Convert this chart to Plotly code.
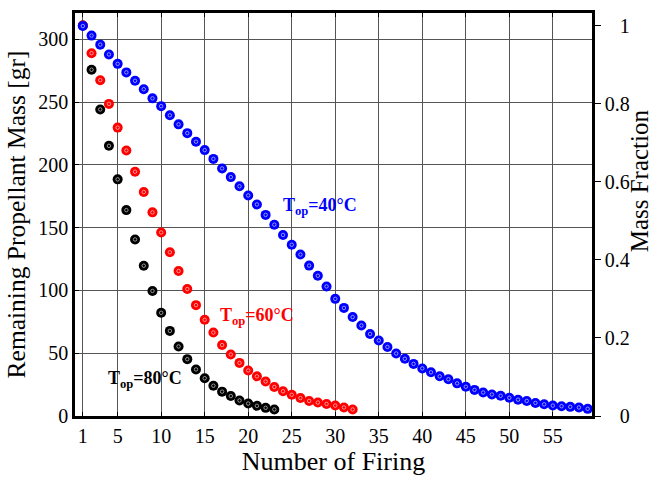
import plotly.graph_objects as go

# Firing number (x) and remaining propellant mass [gr] for each operating temperature
firing_40 = list(range(1, 60))
mass_40 = [310.6, 303.0, 295.8, 288.0, 280.5, 273.7, 267.0, 260.3, 253.0, 246.8,
           239.5, 232.3, 225.3, 218.5, 211.8, 204.8, 197.2, 190.3, 183.0, 175.7,
           168.5, 160.2, 152.4, 144.2, 136.4, 128.6, 119.8, 111.7, 103.2, 93.3,
           86.1, 78.8, 72.1, 65.3, 60.2, 55.0, 49.8, 45.6, 41.5, 37.9,
           34.8, 31.6, 29.3, 26.0, 23.3, 20.8, 18.7, 17.1, 16.1, 14.5,
           13.0, 12.0, 10.4, 9.3, 8.3, 7.8, 7.3, 6.8, 5.7]

firing_60 = list(range(1, 33))
mass_60 = [311.0, 289.0, 267.5, 248.6, 229.7, 211.5, 194.6, 178.4, 162.2, 146.2,
           130.4, 115.5, 101.1, 88.3, 76.6, 66.5, 56.5, 49.0, 42.3, 36.3,
           31.6, 27.5, 23.1, 19.7, 16.9, 14.3, 12.0, 10.7, 9.6, 8.3,
           6.8, 5.2]

firing_80 = list(range(1, 24))
mass_80 = [311.0, 275.8, 244.2, 215.2, 188.5, 164.0, 140.6, 119.7, 99.6, 82.2,
           67.8, 55.4, 45.3, 37.1, 30.1, 24.1, 19.4, 15.9, 12.4, 9.9,
           8.1, 6.5, 5.2]

# Mass-fraction axis marker (full charge = 1) sitting on the right axis
fraction_x = [60.0]
fraction_y = [1.0]

x_ticks = [1, 5, 10, 15, 20, 25, 30, 35, 40, 45, 50, 55]
y_ticks = [0, 50, 100, 150, 200, 250, 300]
frac_ticks = [0, 0.2, 0.4, 0.6, 0.8, 1.0]
frac_labels = ["\u2007\u20080", "0.2", "0.4", "0.6", "0.8", "\u2007\u20081"]

FONT = "Liberation Serif, Times New Roman, serif"

series = [
    (firing_80, mass_80, "#000000"),
    (firing_60, mass_60, "#ff0000"),
    (firing_40, mass_40, "#0000ff"),
]

fig = go.Figure()
for shots, mass, color in series:
    fig.add_trace(go.Scatter(
        x=shots, y=mass, mode="markers", showlegend=False,
        marker=dict(symbol="circle", size=10, color=color, line=dict(width=0)),
        cliponaxis=False,
    ))
    # faint light ring drawn inside each filled marker
    fig.add_trace(go.Scatter(
        x=shots, y=mass, mode="markers", showlegend=False, hoverinfo="skip",
        marker=dict(symbol="circle-open", size=3.5, color="rgba(255,255,255,0.55)",
                    line=dict(width=1)),
        cliponaxis=False,
    ))

fig.add_trace(go.Scatter(
    x=fraction_x, y=fraction_y, yaxis="y2", mode="markers", showlegend=False,
    marker=dict(symbol="triangle-left", size=7, color="#0000ff"),
    cliponaxis=False,
))

labels = [
    (28.2, 167, "<b>T<sub>op</sub>=40°C</b>", "#0000ff"),
    (21.0, 79.3, "<b>T<sub>op</sub>=60°C</b>", "#ff0000"),
    (8.1, 29.3, "<b>T<sub>op</sub>=80°C</b>", "#000000"),
]
for lx, ly, txt, col in labels:
    fig.add_annotation(x=lx, y=ly, xref="x", yref="y", text=txt, showarrow=False,
                       font=dict(family=FONT, size=18, color=col))

# right-hand axis title, kept inside the page edge
fig.add_annotation(x=(654 - 75) / 517, y=0.5835, xref="paper", yref="paper",
                   xanchor="right", yanchor="middle", borderpad=0,
                   text="Mass Fraction", textangle=-90, showarrow=False,
                   font=dict(family=FONT, size=25, color="black"))

axis_common = dict(
    showline=True, linecolor="black", linewidth=2.5,
    tickfont=dict(family=FONT, size=20, color="black"),
    zeroline=False,
)

fig.update_layout(
    width=654, height=477,
    margin=dict(l=75, r=62, t=10, b=54),
    paper_bgcolor="white", plot_bgcolor="white",
    xaxis=dict(
        range=[0.1, 59.5], tickvals=x_ticks, ticks="inside", ticklen=4,
        tickcolor="black", mirror="ticks",
        showgrid=True, gridcolor="#555555", gridwidth=1,
        title=dict(text="Number of Firing", font=dict(family=FONT, size=26, color="black"),
                   standoff=2),
        **axis_common,
    ),
    yaxis=dict(
        range=[0, 321], tickvals=y_ticks, ticks="inside", ticklen=4,
        tickcolor="black",
        showgrid=True, gridcolor="#555555", gridwidth=1,
        title=dict(text="Remaining Propellant Mass [gr]",
                   font=dict(family=FONT, size=25.5, color="black"), standoff=6),
        **axis_common,
    ),
    yaxis2=dict(
        overlaying="y", side="right", anchor="x",
        range=[0, 1.032], tickvals=frac_ticks, ticktext=frac_labels,
        ticks="outside", ticklen=6, tickcolor="black", showgrid=False,
        **axis_common,
    ),
)

fig.write_html("out.html")
